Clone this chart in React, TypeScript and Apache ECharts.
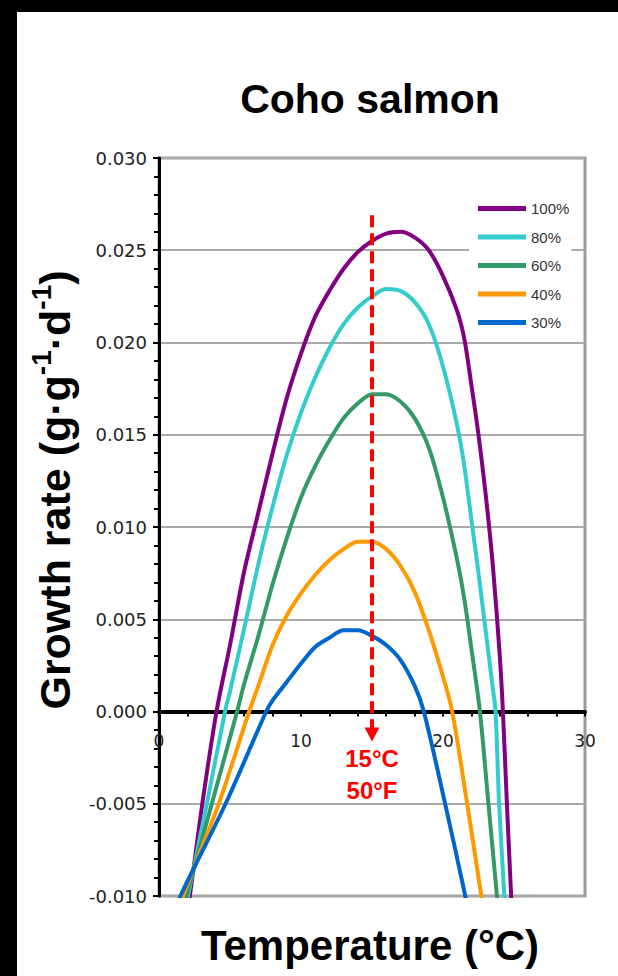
import React, { useEffect, useRef } from "react";
import * as echarts from "echarts";

// ---- data ----
const seriesNames = ["100%", "80%", "60%", "40%", "30%"];
const seriesColors = ["#800080", "#33CCCC", "#339966", "#FF9900", "#0066CC"];

// [temperature °C, growth rate g·g-1·d-1]
const coho100: [number, number][] = [
  [2.0, -0.0105], [2.17, -0.01], [3.05, -0.005], [4.05, 0.0], [5.0, 0.0036], [6.0, 0.0076],
  [7.0, 0.0108], [8.0, 0.014], [9.0, 0.017], [10.0, 0.0194], [11.0, 0.0214], [12.0, 0.0228],
  [13.0, 0.024], [14.0, 0.0249], [15.0, 0.0255], [16.0, 0.0259], [17.0, 0.026], [18.0, 0.0257],
  [19.0, 0.025], [20.0, 0.0236], [21.0, 0.0217], [21.5, 0.0202], [22.0, 0.0177], [22.5, 0.015],
  [23.0, 0.0118], [23.5, 0.008], [24.0, 0.003], [24.22, 0.0], [24.5, -0.005], [24.8, -0.01],
  [24.83, -0.0105],
];
const coho80: [number, number][] = [
  [1.9, -0.0105], [2.04, -0.01], [3.37, -0.005], [4.65, 0.0], [5.0, 0.0011], [6.0, 0.0045],
  [7.0, 0.008], [8.0, 0.0111], [9.0, 0.0139], [10.0, 0.0162], [11.0, 0.0181], [12.0, 0.0197],
  [13.0, 0.021], [14.0, 0.0219], [15.0, 0.0225], [16.0, 0.0229], [17.0, 0.0228], [18.0, 0.0222],
  [19.0, 0.021], [20.0, 0.0187], [21.0, 0.0155], [21.5, 0.0133], [22.0, 0.0104], [22.5, 0.0075],
  [23.0, 0.0044], [23.5, 0.0013], [23.7, 0.0], [23.95, -0.005], [24.32, -0.01], [24.35, -0.0105],
];
const coho60: [number, number][] = [
  [1.8, -0.0105], [1.93, -0.01], [3.72, -0.005], [5.5, 0.0], [6.0, 0.0015], [7.0, 0.0041],
  [8.0, 0.0069], [9.0, 0.0094], [10.0, 0.0116], [11.0, 0.0133], [12.0, 0.0147], [13.0, 0.0159],
  [14.0, 0.0167], [15.0, 0.0172], [16.0, 0.0172], [17.0, 0.0168], [18.0, 0.0159], [19.0, 0.0143],
  [20.0, 0.0116], [21.0, 0.0082], [21.5, 0.0061], [22.0, 0.0034], [22.6, 0.0], [23.2, -0.005],
  [23.8, -0.01], [23.85, -0.0105],
];
const coho40: [number, number][] = [
  [1.55, -0.0105], [1.69, -0.01], [4.21, -0.005], [6.35, 0.0], [7.0, 0.0014], [8.0, 0.0036],
  [9.0, 0.0052], [10.0, 0.0064], [11.0, 0.0074], [12.0, 0.0082], [13.0, 0.0088], [14.0, 0.0092],
  [15.0, 0.0092], [16.0, 0.0088], [17.0, 0.0079], [18.0, 0.0065], [19.0, 0.0044], [20.0, 0.0019],
  [20.65, 0.0], [21.7, -0.005], [22.7, -0.01], [22.8, -0.0105],
];
const coho30: [number, number][] = [
  [1.4, -0.0105], [1.51, -0.01], [4.69, -0.005], [7.55, 0.0], [8.0, 0.0006], [9.0, 0.0016],
  [10.0, 0.0026], [11.0, 0.0035], [12.0, 0.004], [13.0, 0.0044], [14.0, 0.0044], [15.0, 0.0041],
  [16.0, 0.0036], [17.0, 0.0028], [18.0, 0.0014], [18.65, 0.0], [20.15, -0.005], [21.57, -0.01],
  [21.65, -0.0105],
];
const seriesData = [coho100, coho80, coho60, coho40, coho30];

const markerTemp = 15;
const markerTop = 0.0269;
const markerBottom = -0.00125;
const markerLabels = ["15°C", "50°F"];

const xMin = 0, xMax = 30, xInterval = 10;
const yMin = -0.01, yMax = 0.03, yInterval = 0.005;

const FONT = '"Liberation Sans", Arial, Helvetica, sans-serif';
const TICK_FONT = '"DejaVu Sans", "Liberation Sans", Arial, sans-serif';

// plot box (pixels)
const GRID_LEFT = 159, GRID_RIGHT = 33, GRID_TOP = 158, GRID_BOTTOM = 80;
const PLOT_H = 976 - GRID_TOP - GRID_BOTTOM;
const ZERO_OFFSET = -PLOT_H * (0 - yMin) / (yMax - yMin);

export default function App() {
  const ref = useRef<HTMLDivElement>(null);
  useEffect(() => {
    if (!ref.current) return;
    const chart = echarts.init(ref.current, undefined, { renderer: "svg" });
    const series: any[] = seriesNames.map((name, i) => ({
      name,
      type: "line",
      data: seriesData[i],
      showSymbol: false,
      symbol: "none",
      smooth: 0.3,
      clip: true,
      z: 3,
      lineStyle: { width: 4, color: seriesColors[i] },
      itemStyle: { color: seriesColors[i] },
    }));
    series[series.length - 1].markLine = {
      silent: true,
      animation: false,
      symbol: ["none", "triangle"],
      symbolSize: [15, 14],
      lineStyle: { color: "#FF0000", width: 4, type: [12, 6] },
      itemStyle: { color: "#FF0000" },
      label: { show: false },
      z: 10,
      data: [[{ coord: [markerTemp, markerTop] }, { coord: [markerTemp, markerBottom] }]],
    };
    chart.setOption({
      animation: false,
      backgroundColor: "#fff",
      grid: {
        left: GRID_LEFT,
        right: GRID_RIGHT,
        top: GRID_TOP,
        bottom: GRID_BOTTOM,
        show: true,
        borderColor: "#999",
        borderWidth: 3,
        backgroundColor: "transparent",
      },
      legend: {
        data: seriesNames,
        orient: "vertical",
        left: 469,
        top: 197,
        padding: [4, 2, 6, 9],
        backgroundColor: "#fff",
        itemWidth: 48,
        itemHeight: 5,
        itemGap: 13.5,
        icon: "rect",
        textStyle: { fontSize: 15, color: "#333", fontFamily: FONT, lineHeight: 15 },
      },
      xAxis: {
        type: "value",
        position: "bottom",
        offset: ZERO_OFFSET,
        min: xMin,
        max: xMax,
        interval: xInterval,
        axisLine: { onZero: false, lineStyle: { color: "#000", width: 4 } },
        axisTick: { show: true, length: 5, lineStyle: { color: "#000", width: 2 } },
        minorTick: { show: true, splitNumber: 5, length: 5, lineStyle: { color: "#000", width: 2 } },
        axisLabel: { margin: 21, fontSize: 17, color: "#222", fontFamily: TICK_FONT },
        splitLine: { show: false },
      },
      yAxis: {
        type: "value",
        min: yMin,
        max: yMax,
        interval: yInterval,
        axisLine: { show: true, onZero: false, lineStyle: { color: "#000", width: 3 } },
        axisTick: { show: true, length: 6, lineStyle: { color: "#000", width: 2 } },
        minorTick: { show: true, splitNumber: 5, length: 5, lineStyle: { color: "#000", width: 2 } },
        axisLabel: {
          margin: 12,
          fontSize: 18,
          color: "#222",
          fontFamily: TICK_FONT,
          formatter: (v: number) => (Math.abs(v) < 1e-9 ? "0.000" : v.toFixed(3)),
        },
        splitLine: { show: true, lineStyle: { color: "#aaa", width: 2 } },
      },
      graphic: [
        { type: "rect", shape: { x: 0, y: 0, width: 17, height: 976 }, style: { fill: "#000" }, z: 100 },
        { type: "rect", shape: { x: 0, y: 0, width: 618, height: 12 }, style: { fill: "#000" }, z: 100 },
        {
          type: "text",
          x: 370,
          y: 99,
          style: { text: "Coho salmon", fontSize: 41, fontWeight: "bold", fontFamily: FONT, fill: "#000", align: "center", verticalAlign: "middle" },
        },
        {
          type: "text",
          x: 370,
          y: 945,
          style: { text: "Temperature (°C)", fontSize: 42, fontWeight: "bold", fontFamily: FONT, fill: "#000", align: "center", verticalAlign: "middle" },
        },
        {
          type: "text",
          x: 55,
          y: 490,
          rotation: Math.PI / 2,
          style: {
            text: "Growth rate (g·g{sup|-1}·d{sup|-1})",
            fontSize: 43,
            fontWeight: "bold",
            fontFamily: FONT,
            fill: "#000",
            align: "center",
            verticalAlign: "middle",
            lineHeight: 56,
            rich: {
              sup: { fontSize: 28, fontWeight: "bold", fontFamily: FONT, fill: "#000", verticalAlign: "top", lineHeight: 28 },
            },
          },
        },
        {
          type: "text",
          x: 372,
          y: 758,
          style: { text: markerLabels[0], fontSize: 24, fontWeight: "bold", fontFamily: FONT, fill: "#FF0000", align: "center", verticalAlign: "middle" },
        },
        {
          type: "text",
          x: 372,
          y: 790,
          style: { text: markerLabels[1], fontSize: 24, fontWeight: "bold", fontFamily: FONT, fill: "#FF0000", align: "center", verticalAlign: "middle" },
        },
      ],
      series,
    });
    return () => chart.dispose();
  }, []);
  return (
    <div
      ref={ref}
      style={{ position: "absolute", left: 0, top: 0, width: 618, height: 976, background: "#fff" }}
    />
  );
}
